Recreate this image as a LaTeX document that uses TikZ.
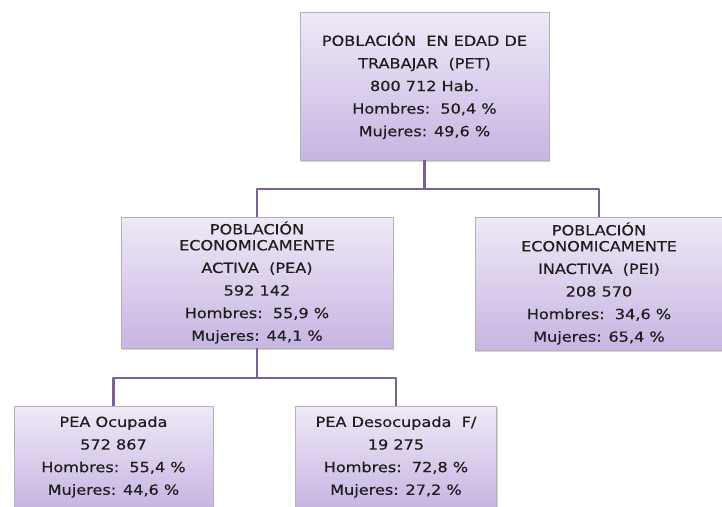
\documentclass[tikz,border=0pt]{standalone}
\usepackage{fontspec}
\setmainfont[FakeStretch=1.15,FakeBold=0.35]{DejaVu Sans}
\usetikzlibrary{shadows}
\definecolor{lila}{HTML}{EFE9F7}
\definecolor{lilaosc}{HTML}{C7B5E2}
\definecolor{linea}{HTML}{7A6197}
\definecolor{texto}{HTML}{1E1E1E}
\begin{document}
\begin{tikzpicture}[x=1pt,y=-1pt,line join=round,
	caja/.style={draw=gray!60, line width=0.7pt, top color=lila, bottom color=lilaosc,
		align=center, text=texto, inner sep=0pt, font=\fontsize{14}{22.6}\selectfont,
		drop shadow={shadow xshift=1pt, shadow yshift=-1.5pt, opacity=0.35}},
	con/.style={draw=linea, line width=2.6pt}]
	\useasboundingbox (0,0) rectangle (722,506);
	\clip (0,0) rectangle (722,506);
	% primer nivel
	\node[caja, minimum width=249, minimum height=148] (pet) at (424.5,86)
		{POBLACIÓN~~EN EDAD DE\\ TRABAJAR~~(PET)\\ 800 712 Hab.\\ Hombres:~~50,4~\%\\ Mujeres: 49,6~\%};
	% segundo nivel
	\node[caja, minimum width=272, minimum height=131] (pea) at (257,282.5)
		{POBLACIÓN\\[-6.6pt] ECONOMICAMENTE\\ ACTIVA~~(PEA)\\ 592 142\\ Hombres:~~55,9~\%\\ Mujeres: 44,1~\%};
	\node[caja, minimum width=248, minimum height=133] (pei) at (599,283.5)
		{POBLACIÓN\\[-6.6pt] ECONOMICAMENTE\\ INACTIVA~~(PEI)\\ 208 570\\ Hombres:~~34,6~\%\\ Mujeres: 65,4~\%};
	% tercer nivel
	\node[caja, minimum width=199, minimum height=102] (ocu) at (113.5,457)
		{PEA Ocupada\\ 572 867\\ Hombres:~~55,4~\%\\ Mujeres: 44,6~\%};
	\node[caja, minimum width=201, minimum height=102] (des) at (396,457)
		{PEA Desocupada~~F/\\ 19 275\\ Hombres:~~72,8~\%\\ Mujeres: 27,2~\%};
	% conectores
	\coordinate (r1) at (424.5,189);
	\coordinate (r2) at (257,378);
	\draw[con] (pet.south) -- (r1);
	\draw[con] (pea.north) |- (r1) -| (pei.north);
	\draw[con] (pea.south) -- (r2);
	\draw[con] (ocu.north) |- (r2) -| (des.north);
\end{tikzpicture}
\end{document}
